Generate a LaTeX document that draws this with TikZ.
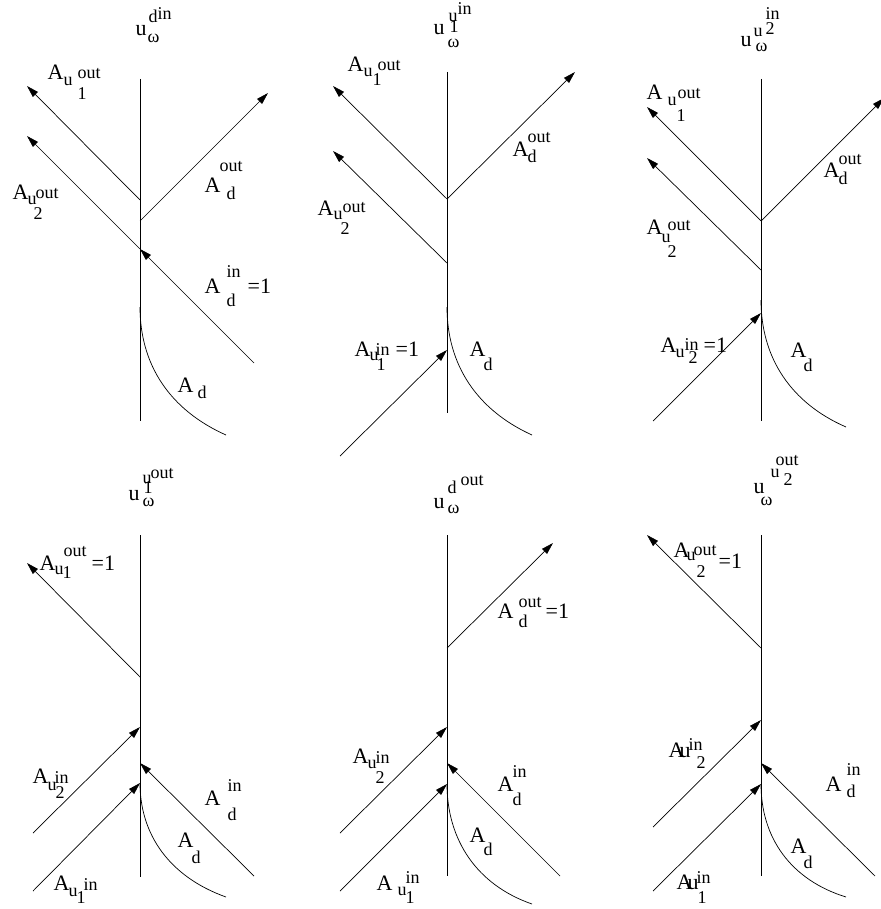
\documentclass[tikz,border=0pt]{standalone}
\usepackage{fontspec}
\setmainfont{Liberation Serif}
\usetikzlibrary{arrows.meta}
\newcommand\glyphat[4]{\rlap{\hspace*{#1pt}\raisebox{#2pt}{\fontsize{#3}{#3}\selectfont #4}}}
\newcommand\gA{\glyphat{0}{0}{22}{A}}
\begin{document}
\begin{tikzpicture}[x=1pt,y=-1pt,
  axis/.style={line width=0.8pt},
  ray/.style={line width=0.7pt},
  arr/.style={line width=0.7pt,-{Triangle[length=12pt,width=7pt]}},
  lab/.style={inner sep=0pt,anchor=base west}]
\useasboundingbox (0,0) rectangle (880,909);

% ---------------- Panel 1 ----------------
\coordinate (p1top) at (140,79); \coordinate (p1bot) at (140,421);
\coordinate (p1a) at (140,200); \coordinate (p1ua) at (27,86);
\coordinate (p1b) at (140,249); \coordinate (p1ub) at (27,136); \coordinate (p1din) at (254,363);
\coordinate (p1c) at (140,221); \coordinate (p1dout) at (268,93);
\coordinate (p1d) at (140,307); \coordinate (p1ce) at (226,435);
\draw[axis] (p1top) -- (p1bot);
\draw[arr] (p1a) -- (p1ua);
\draw[arr] (p1din) -- (p1b);
\draw[arr] (p1b) -- (p1ub);
\draw[arr] (p1c) -- (p1dout);
\draw[ray] (p1d) .. controls (140,365) and (170,410) .. (p1ce);
\node[lab] (t1) at (135,36) {\glyphat{0}{0}{22}{u}\glyphat{13}{13}{18}{d}\glyphat{22}{16}{18}{in}\glyphat{12}{-7}{18}{ω}};
\node[lab] (l1) at (47,80) {\gA\glyphat{16}{-6}{18}{u}\glyphat{30}{1}{18}{out}\glyphat{30}{-20}{18}{1}};
\node[lab] (l2) at (12,200) {\gA\glyphat{15}{-5}{18}{u}\glyphat{23}{1}{18}{out}\glyphat{21}{-20}{18}{2}};
\node[lab] (l3) at (204,193) {\gA\glyphat{15}{21}{18}{out}\glyphat{22}{-7}{18}{d}};
\node[lab] (l4) at (204,293) {\gA\glyphat{22}{16}{18}{in}\glyphat{22}{-13}{18}{d}\glyphat{43}{0}{22}{=1}};
\node[lab] (l5) at (177,392) {\gA\glyphat{20}{-6}{18}{d}};

% ---------------- Panel 2 ----------------
\coordinate (p2top) at (447,72); \coordinate (p2bot) at (447,413);
\coordinate (p2a) at (447,199); \coordinate (p2ua) at (333,86); \coordinate (p2dout) at (575,72);
\coordinate (p2b) at (447,263); \coordinate (p2ub) at (333,151);
\coordinate (p2uin) at (340,456); \coordinate (p2c) at (447,350);
\coordinate (p2d) at (447,307); \coordinate (p2ce) at (532,435);
\draw[axis] (p2top) -- (p2bot);
\draw[arr] (p2a) -- (p2ua);
\draw[arr] (p2a) -- (p2dout);
\draw[arr] (p2b) -- (p2ub);
\draw[arr] (p2uin) -- (p2c);
\draw[ray] (p2d) .. controls (447,365) and (477,410) .. (p2ce);
\node[lab] (t2) at (433,35) {\glyphat{0}{0}{22}{u}\glyphat{15}{13}{18}{u}\glyphat{24}{20}{18}{in}\glyphat{16}{2}{18}{1}\glyphat{14}{-13}{18}{ω}};
\node[lab] (l6) at (347,72) {\gA\glyphat{16}{-5}{18}{u}\glyphat{25}{-14}{18}{1}\glyphat{30}{1}{18}{out}};
\node[lab] (l7) at (317,215) {\gA\glyphat{16}{-5}{18}{u}\glyphat{25}{2}{18}{out}\glyphat{23}{-20}{18}{2}};
\node[lab] (l8) at (512,157) {\gA\glyphat{15}{14}{18}{out}\glyphat{15}{-6}{18}{d}};
\node[lab] (l9) at (354,356) {\gA\glyphat{15}{-4}{18}{u}\glyphat{21}{1}{18}{in}\glyphat{22}{-14}{18}{1}\glyphat{41}{0}{22}{=1}};
\node[lab] (l10) at (469,356) {\gA\glyphat{14}{-14}{18}{d}};

% ---------------- Panel 3 ----------------
\coordinate (p3top) at (761,79); \coordinate (p3bot) at (761,421);
\coordinate (p3a) at (761,221); \coordinate (p3ua) at (647,107); \coordinate (p3dout) at (884,98);
\coordinate (p3b) at (761,270); \coordinate (p3ub) at (647,158);
\coordinate (p3uin) at (653,421); \coordinate (p3c) at (761,313);
\coordinate (p3d) at (761,300); \coordinate (p3ce) at (846,427);
\draw[axis] (p3top) -- (p3bot);
\draw[arr] (p3a) -- (p3ua);
\draw[arr] (p3a) -- (p3dout);
\draw[arr] (p3b) -- (p3ub);
\draw[arr] (p3uin) -- (p3c);
\draw[ray] (p3d) .. controls (761,358) and (791,403) .. (p3ce);
\node[lab] (t3) at (740,47) {\glyphat{0}{0}{22}{u}\glyphat{13}{10}{18}{u}\glyphat{25}{12}{18}{2}\glyphat{25}{27}{18}{in}\glyphat{15}{-5}{18}{ω}};
\node[lab] (l11) at (646,100) {\gA\glyphat{21}{-6}{18}{u}\glyphat{31}{1}{18}{out}\glyphat{30}{-22}{18}{1}};
\node[lab] (l12) at (646,235) {\gA\glyphat{15}{-7}{18}{u}\glyphat{21}{5}{18}{out}\glyphat{21}{-22}{18}{2}};
\node[lab] (l13) at (823,178) {\gA\glyphat{15}{13}{18}{out}\glyphat{15}{-7}{18}{d}};
\node[lab] (l14) at (660,352) {\gA\glyphat{15}{-5}{18}{u}\glyphat{24}{2}{18}{in}\glyphat{28}{-11}{18}{2}\glyphat{43}{0}{22}{=1}};
\node[lab] (l15) at (790,357) {\gA\glyphat{13}{-14}{18}{d}};

% ---------------- Panel 4 ----------------
\coordinate (p4top) at (140,535); \coordinate (p4bot) at (140,877);
\coordinate (p4a) at (140,677); \coordinate (p4ua) at (27,563);
\coordinate (p4u2in) at (33,833); \coordinate (p4b) at (140,727);
\coordinate (p4din) at (254,876); \coordinate (p4c) at (140,763);
\coordinate (p4u1in) at (33,891); \coordinate (p4d) at (140,783);
\coordinate (p4ce) at (226,897);
\draw[axis] (p4top) -- (p4bot);
\draw[arr] (p4a) -- (p4ua);
\draw[arr] (p4u2in) -- (p4b);
\draw[arr] (p4din) -- (p4c);
\draw[arr] (p4u1in) -- (p4d);
\draw[ray] (p4d) .. controls (140,835) and (170,877) .. (p4ce);
\node[lab] (t4) at (128,500) {\glyphat{0}{0}{22}{u}\glyphat{14}{17}{18}{u}\glyphat{15}{7}{18}{1}\glyphat{22}{22}{18}{out}\glyphat{14}{-6}{18}{ω}};
\node[lab] (l16) at (39,570) {\gA\glyphat{15}{-4}{18}{u}\glyphat{23}{-8}{18}{1}\glyphat{24}{14}{18}{out}\glyphat{52}{0}{22}{=1}};
\node[lab] (l17) at (32,783) {\gA\glyphat{15}{-7}{18}{u}\glyphat{22}{0}{18}{in}\glyphat{23}{-15}{18}{2}};
\node[lab] (l18) at (204,805) {\gA\glyphat{23}{14}{18}{in}\glyphat{23}{-15}{18}{d}};
\node[lab] (l19) at (177,847) {\gA\glyphat{14}{-16}{18}{d}};
\node[lab] (l20) at (53,890) {\gA\glyphat{15}{-6}{18}{u}\glyphat{23}{-13}{18}{1}\glyphat{30}{0}{18}{in}};

% ---------------- Panel 5 ----------------
\coordinate (p5top) at (447,535); \coordinate (p5bot) at (447,876);
\coordinate (p5a) at (447,648); \coordinate (p5dout) at (553,543);
\coordinate (p5u2in) at (340,833); \coordinate (p5b) at (447,727);
\coordinate (p5din) at (560,876); \coordinate (p5c) at (447,763);
\coordinate (p5u1in) at (340,891); \coordinate (p5d) at (447,784);
\coordinate (p5ce) at (532,904);
\draw[axis] (p5top) -- (p5bot);
\draw[arr] (p5a) -- (p5dout);
\draw[arr] (p5u2in) -- (p5b);
\draw[arr] (p5din) -- (p5c);
\draw[arr] (p5u1in) -- (p5d);
\draw[ray] (p5d) .. controls (447,840) and (477,885) .. (p5ce);
\node[lab] (t5) at (433,508) {\glyphat{0}{0}{22}{u}\glyphat{14}{15}{18}{d}\glyphat{27}{23}{18}{out}\glyphat{14}{-5}{18}{ω}};
\node[lab] (l21) at (497,618) {\gA\glyphat{21}{11}{18}{out}\glyphat{21}{-9}{18}{d}\glyphat{48}{0}{22}{=1}};
\node[lab] (l22) at (352,763) {\gA\glyphat{15}{-5}{18}{u}\glyphat{23}{0}{18}{in}\glyphat{23}{-20}{18}{2}};
\node[lab] (l23) at (497,791) {\gA\glyphat{15}{14}{18}{in}\glyphat{15}{-14}{18}{d}};
\node[lab] (l24) at (469,842) {\gA\glyphat{14}{-13}{18}{d}};
\node[lab] (l25) at (376,890) {\gA\glyphat{21}{-5}{18}{u}\glyphat{29}{-13}{18}{1}\glyphat{29}{7}{18}{in}};

% ---------------- Panel 6 ----------------
\coordinate (p6top) at (761,535); \coordinate (p6bot) at (761,876);
\coordinate (p6a) at (761,648); \coordinate (p6ua) at (647,535);
\coordinate (p6u2in) at (653,827); \coordinate (p6b) at (761,720);
\coordinate (p6din) at (875,876); \coordinate (p6c) at (761,763);
\coordinate (p6u1in) at (653,891); \coordinate (p6d) at (761,784);
\coordinate (p6ce) at (846,897);
\draw[axis] (p6top) -- (p6bot);
\draw[arr] (p6a) -- (p6ua);
\draw[arr] (p6u2in) -- (p6b);
\draw[arr] (p6din) -- (p6c);
\draw[arr] (p6u1in) -- (p6d);
\draw[ray] (p6d) .. controls (761,838) and (791,880) .. (p6ce);
\node[lab] (t6) at (753,493) {\glyphat{0}{0}{22}{u}\glyphat{7}{-12}{18}{ω}\glyphat{17}{16}{18}{u}\glyphat{30}{8}{18}{2}\glyphat{22}{28}{18}{out}};
\node[lab] (l26) at (673,557) {\gA\glyphat{13}{-3}{18}{u}\glyphat{20}{2}{18}{out}\glyphat{23}{-20}{18}{2}\glyphat{45}{-11}{22}{=1}};
\node[lab] (l27) at (668,757) {\gA\glyphat{11}{0}{22}{u}\glyphat{20}{7}{18}{in}\glyphat{28}{-11}{18}{2}};
\node[lab] (l28) at (825,791) {\gA\glyphat{21}{16}{18}{in}\glyphat{21}{-6}{18}{d}};
\node[lab] (l29) at (790,853) {\gA\glyphat{13}{-15}{18}{d}};
\node[lab] (l30) at (676,889) {\gA\glyphat{11}{0}{22}{u}\glyphat{20}{6}{18}{in}\glyphat{21}{-14}{18}{1}};
\end{tikzpicture}
\end{document}
